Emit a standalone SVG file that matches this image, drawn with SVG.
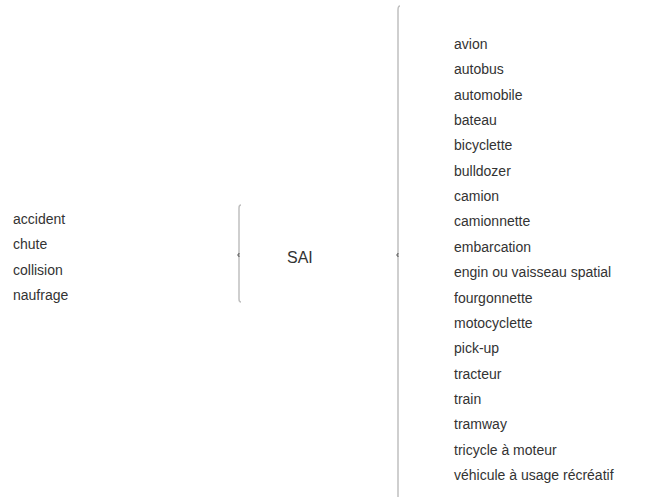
<svg xmlns="http://www.w3.org/2000/svg" width="653" height="497" viewBox="0 0 653 497">
<style>
text{font-family:"Liberation Sans",Arial,sans-serif;font-size:14px;fill:#333}
.br{fill:none;stroke:#c0c0c0;stroke-width:1.5}
.tk{fill:none;stroke:#777;stroke-width:1.5}
</style>
<rect width="653" height="497" fill="#fff"/>
<g id="connectors">
<path class="br" d="M241 205 Q239 205 239 208 L239 252 Q239 255 237.5 255 Q239 255 239 258 L239 299 Q239 302 241 302"/>
<path class="tk" d="M239 253 Q239 255 237.5 255 Q239 255 239 257"/>
<path class="br" d="M400 6 Q398 6 398 10 L398 252 Q398 255 396.5 255 Q398 255 398 258 L398 497"/>
<path class="tk" d="M398 253 Q398 255 396.5 255 Q398 255 398 257"/>
</g>
<g id="left">
<text x="13" y="224">accident</text>
<text x="13" y="249.4">chute</text>
<text x="13" y="274.7">collision</text>
<text x="13" y="300">naufrage</text>
</g>
<g id="sai"><text x="287" y="263" style="font-size:16px">SAI</text></g>
<g id="right">
<text x="454" y="49">avion</text>
<text x="454" y="74.35">autobus</text>
<text x="454" y="99.7">automobile</text>
<text x="454" y="125.05">bateau</text>
<text x="454" y="150.4">bicyclette</text>
<text x="454" y="175.75">bulldozer</text>
<text x="454" y="201.1">camion</text>
<text x="454" y="226.45">camionnette</text>
<text x="454" y="251.8">embarcation</text>
<text x="454" y="277.15">engin ou vaisseau spatial</text>
<text x="454" y="302.5">fourgonnette</text>
<text x="454" y="327.85">motocyclette</text>
<text x="454" y="353.2">pick-up</text>
<text x="454" y="378.55">tracteur</text>
<text x="454" y="403.9">train</text>
<text x="454" y="429.25">tramway</text>
<text x="454" y="454.6">tricycle à moteur</text>
<text x="454" y="480">véhicule à usage récréatif</text>
</g>
</svg>
